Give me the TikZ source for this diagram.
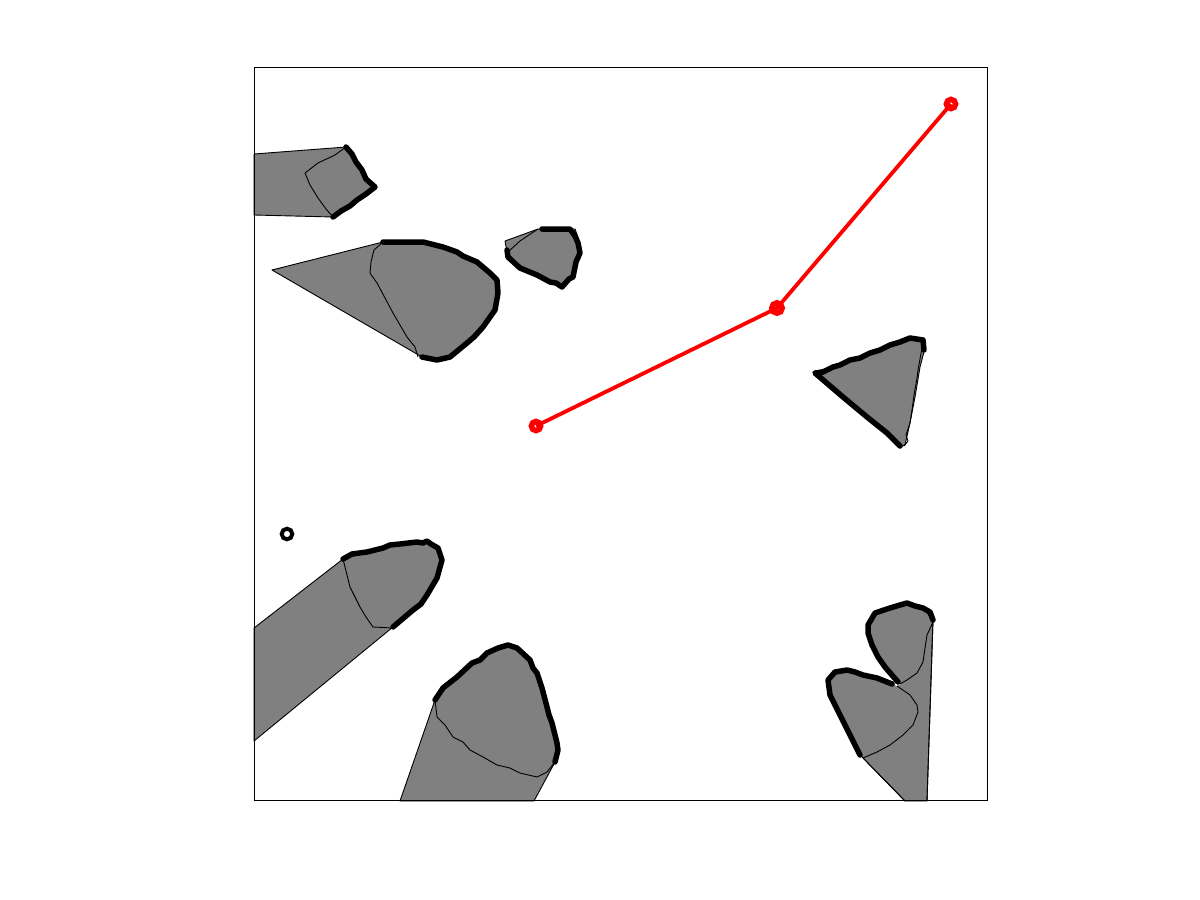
\documentclass[tikz,border=0pt]{standalone}
\definecolor{obgray}{RGB}{128,128,128}
\definecolor{pathred}{RGB}{255,0,0}
\tikzset{
  obst/.style={fill=obgray, draw=black, line width=0.9pt, line join=round},
  rim/.style={draw=black, line width=5.5pt, line join=round, line cap=round},
  seam/.style={draw=black, line width=0.9pt, line join=round},
  route/.style={draw=pathred, line width=3.8pt},
  wp/.style={draw=pathred, line width=5.5pt},
}
\begin{document}
\begin{tikzpicture}[x=1pt,y=-1pt]
\useasboundingbox (0,0) rectangle (1200,900);
\fill[white] (0,0) rectangle (1200,900);

% obstacle 1 (top left)
\path[obst] (254,154) -- (346,147) -- (355,160) -- (365,176) -- (375,187) -- (365,195) -- (352,204) -- (341,211) -- (333,217) -- (254,215) -- cycle;
\draw[seam] (346,147) -- (335,155) -- (318,163) -- (305,173) -- (310,185) -- (318,198) -- (326,209) -- (333,217);
\draw[rim] (346,147) -- (352,154) -- (356,162) -- (362,170) -- (366,179) -- (375,187) -- (366,194) -- (357,200) -- (350,206) -- (341,211) -- (333,217);

% obstacle 2 (large, upper left)
\path[obst] (272,270) -- (383,242) -- (423,242) -- (443,247) -- (457,252) -- (477,262) -- (497,280) -- (498,293) -- (495,310) -- (483,327) -- (467,343) -- (450,357) -- (437,360) -- (422,357) -- cycle;
\draw[seam] (383,242) -- (374,250) -- (371,262) -- (370,273) -- (377,283) -- (385,298) -- (393,313) -- (400,325) -- (407,337) -- (415,347) -- (418,357);
\draw[rim] (383,242) -- (423,242) -- (443,247) -- (457,252) -- (463,256) -- (477,262) -- (490,273) -- (497,280) -- (498,293) -- (495,310) -- (483,327) -- (474,337) -- (467,343) -- (450,357) -- (437,360) -- (422,357);

% obstacle 3 (small, top centre)
\path[obst] (505,241) -- (538,229) -- (575,229) -- (580,243) -- (578,260) -- (573,277) -- (562,287) -- (550,282) -- (537,275) -- (520,268) -- (508,257) -- cycle;
\draw[seam] (508,252) -- (520,241) -- (532,233) -- (538,229);
\draw[rim] (507,250) -- (508,257) -- (520,268) -- (537,275) -- (550,282) -- (556,283) -- (562,287) -- (569,279) -- (573,277) -- (576,262) -- (580,253) -- (578,243) -- (575,236) -- (570,229) -- (542,229);

% obstacle 4 (triangle, right)
\path[obst] (813,372) -- (833,367) -- (850,360) -- (870,353) -- (890,345) -- (910,338) -- (923,340) -- (925,348) -- (920,367) -- (915,397) -- (910,423) -- (905,445) -- (900,447) -- (887,433) -- (867,417) -- (843,397) -- cycle;
\draw[seam] (922,348) -- (918,370) -- (917,378) -- (914,395) -- (912,410) -- (910,423) -- (906,435) -- (908,441) -- (904,446);
\draw[rim] (924,350) -- (923,340) -- (910,338) -- (900,342) -- (890,345) -- (880,350) -- (870,353) -- (860,358) -- (850,360) -- (840,365) -- (833,367) -- (823,372) -- (815,373) -- (843,397) -- (867,417) -- (887,433) -- (900,446);

% obstacle 5 (bottom left)
\path[obst] (254,628) -- (343,559) -- (367,552) -- (383,548) -- (400,544) -- (417,542) -- (427,541) -- (438,548) -- (442,560) -- (437,578) -- (427,595) -- (413,610) -- (393,627) -- (254,741) -- cycle;
\draw[seam] (343,559) -- (345,567) -- (350,587) -- (355,597) -- (360,607) -- (366,617) -- (373,627) -- (393,628);
\draw[rim] (343,559) -- (352,554) -- (367,552) -- (383,548) -- (390,545) -- (400,544) -- (417,542) -- (423,543) -- (427,541) -- (431,544) -- (438,548) -- (442,560) -- (437,578) -- (427,595) -- (421,604) -- (413,610) -- (393,627);

% small black ring
\draw[line width=4pt] (287,534) circle (5.3);

% obstacle 6 (bottom centre)
\path[obst] (400,801) -- (435,700) -- (443,688) -- (457,677) -- (472,663) -- (487,653) -- (498,648) -- (508,645) -- (517,648) -- (530,660) -- (537,673) -- (542,688) -- (547,707) -- (552,723) -- (557,743) -- (558,750) -- (555,762) -- (534,801) -- cycle;
\draw[seam] (435,700) -- (437,717) -- (445,725) -- (453,737) -- (463,742) -- (470,750) -- (483,757) -- (497,765) -- (510,768) -- (520,773) -- (537,777) -- (547,772) -- (555,762);
\draw[rim] (435,700) -- (443,688) -- (448,684) -- (457,677) -- (472,663) -- (480,660) -- (487,653) -- (498,648) -- (508,645) -- (517,648) -- (530,660) -- (533,668) -- (537,673) -- (542,688) -- (547,707) -- (549,715) -- (552,723) -- (555,735) -- (557,743) -- (558,750) -- (555,762);

% obstacle 7 (bottom right)
\path[obst] (933,620) -- (923,608) -- (907,603) -- (890,608) -- (875,613) -- (868,625) -- (872,645) -- (885,667) -- (897,683) -- (877,678) -- (863,675) -- (847,670) -- (835,672) -- (828,680) -- (830,695) -- (840,715) -- (850,735) -- (860,755) -- (863,758) -- (905,801) -- (927,801) -- cycle;
\fill[white] (893,682) -- (901,684) -- (896,686) -- cycle;
\draw[seam] (933,622) -- (927,635) -- (925,648) -- (923,662) -- (917,673) -- (907,680) -- (900,684);
\draw[seam] (897,686) -- (910,695) -- (917,705) -- (918,712) -- (913,725) -- (903,735) -- (890,745) -- (877,752) -- (863,758);
\draw[seam] (863,758) -- (905,801);
\draw[seam] (927,801) -- (933,620);
\draw[rim] (898,682) -- (885,667) -- (878,657) -- (872,645) -- (868,633) -- (868,625) -- (875,613) -- (890,608) -- (900,605) -- (907,603) -- (915,606) -- (923,608) -- (930,612) -- (933,620);
\draw[rim] (892,684) -- (877,678) -- (863,675) -- (855,672) -- (847,670) -- (835,672) -- (828,680) -- (830,695) -- (840,715) -- (850,735) -- (860,755);

% frame
\draw[line width=0.9pt] (254.5,67.5) rectangle (987.5,800.5);

% route
\coordinate (p1) at (536,426);
\coordinate (p2) at (777,308);
\coordinate (p3) at (951,104);
\draw[route] (p1) -- (p2) -- (p3);
\draw[wp] (p1) circle (4.6);
\draw[wp] (p2) circle (5.2);
\draw[wp] (p3) circle (4.6);
\end{tikzpicture}
\end{document}
